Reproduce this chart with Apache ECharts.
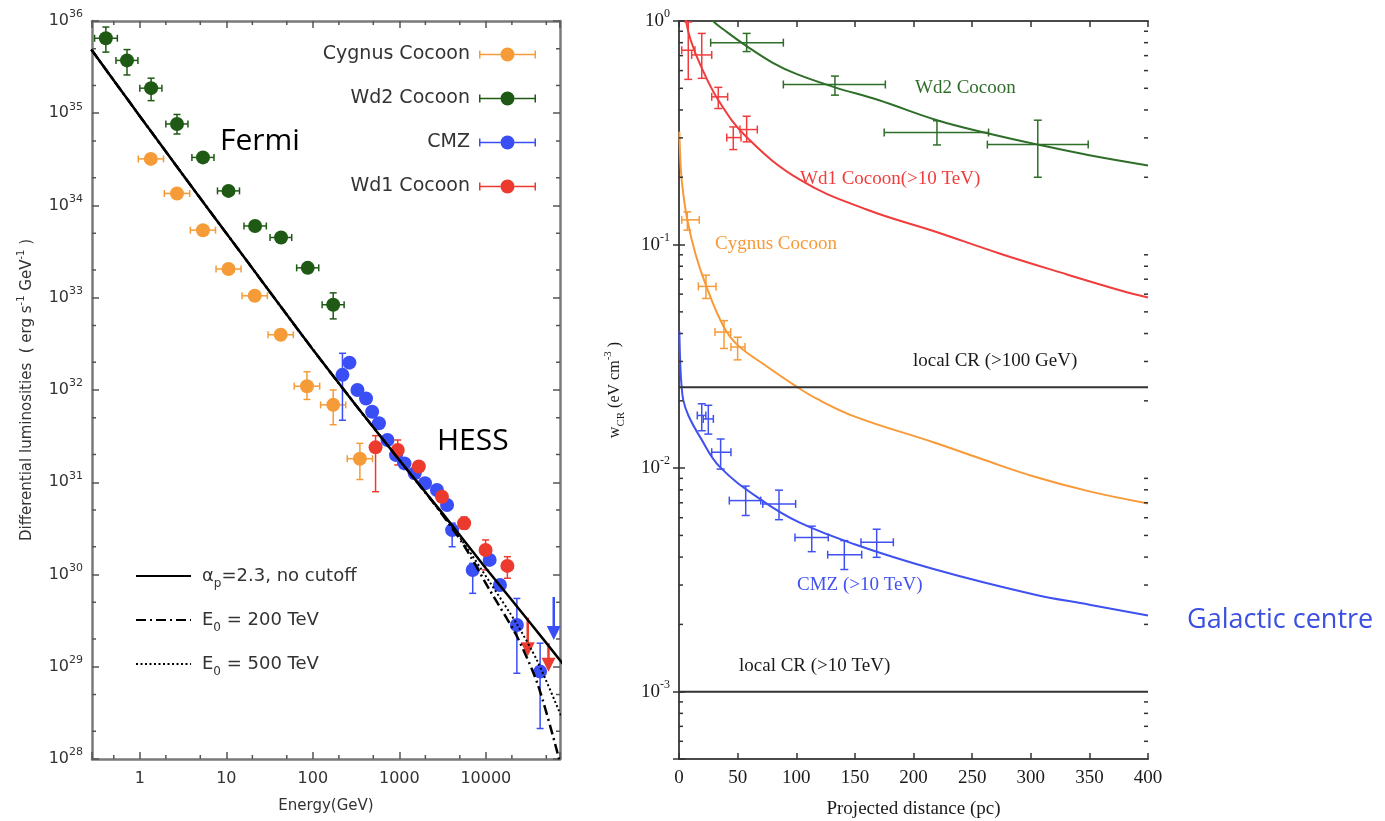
<!DOCTYPE html>
<html>
<head>
<meta charset="utf-8">
<script src="https://cdn.jsdelivr.net/npm/echarts@6/dist/echarts.min.js"></script>
<style>
html, body { margin: 0; padding: 0; background: #fff; }
#main { width: 1385px; height: 821px; }
</style>
</head>
<body>
<div id="main"></div>
<script>
// ---- left panel: luminosity vs energy ----
// [E (GeV), L, Elo, Ehi, Llo, Lhi]
var cygnusPts = [
	[1.34, 3.2e34, 0.96, 1.88, null, null],
	[2.69, 1.35e34, 1.92, 3.77, null, null],
	[5.37, 5.4e33, 3.84, 7.5, null, null],
	[10.6, 2.05e33, 7.6, 14.8, null, null],
	[21.3, 1.05e33, 15.2, 29.8, null, null],
	[42.5, 3.97e32, 30.4, 59.5, null, null],
	[85.6, 1.1e32, 61, 120, 7.9e31, 1.58e32],
	[172, 6.9e31, 123, 240, 4.2e31, 1.0e32],
	[350, 1.8e31, 250, 490, 1.07e31, 2.64e31]
];
var wd2Pts = [
	[0.405, 6.5e35, 0.3, 0.55, 4.6e35, 8.6e35],
	[0.711, 3.74e35, 0.53, 0.95, 2.6e35, 4.9e35],
	[1.35, 1.87e35, 1.0, 1.8, 1.37e35, 2.4e35],
	[2.69, 7.66e34, 2.0, 3.6, 5.96e34, 9.7e34],
	[5.37, 3.32e34, 4.0, 7.2, null, null],
	[10.6, 1.44e34, 7.9, 14.2, null, null],
	[21.5, 6.0e33, 16, 29, null, null],
	[42.9, 4.5e33, 32, 57, null, null],
	[87.3, 2.11e33, 65, 117, null, null],
	[172, 8.4e32, 128, 230, 5.9e32, 1.13e33]
];
var cmzPts = [
	[220, 1.46e32, null, null, 4.7e31, 2.5e32],
	[265, 1.98e32, null, null, null, null],
	[328, 1.0e32, null, null, null, null],
	[412, 8.1e31, null, null, null, null],
	[485, 5.8e31, null, null, null, null],
	[581, 4.36e31, null, null, null, null],
	[729, 2.87e31, null, null, null, null],
	[916, 1.97e31, null, null, null, null],
	[1148, 1.6e31, null, null, null, null],
	[1506, 1.25e31, null, null, null, null],
	[1980, 9.75e30, null, null, null, null],
	[2720, 8.25e30, null, null, null, null],
	[3565, 5.67e30, null, null, null, null],
	[4080, 3.03e30, null, null, 2.0e30, 3.6e30],
	[7050, 1.12e30, null, null, 6.25e29, 1.32e30],
	[11070, 1.44e30, null, null, null, null],
	[14550, 7.7e29, null, null, null, null],
	[22850, 2.84e29, null, null, 8.5e28, 5.5e29],
	[42400, 8.86e28, null, null, 2.14e28, 1.8e29]
];
var wd1Pts = [
	[531, 2.39e31, null, null, 7.9e30, 3.2e31],
	[959, 2.24e31, null, null, 1.54e31, 2.87e31],
	[1680, 1.48e31, null, null, null, null],
	[3110, 6.96e30, null, null, null, null],
	[5610, 3.59e30, null, null, 3.1e30, 4.2e30],
	[9930, 1.84e30, null, null, 1.12e30, 2.37e30],
	[17750, 1.24e30, null, null, 9.1e29, 1.56e30]
];
// upper limits [E, arrow top, arrow tip]
var cmzLimits = [[61000, 5.7e29, 1.95e29]];
var wd1Limits = [[30500, 3.4e29, 1.3e29], [53000, 1.8e29, 8.8e28]];

// model curves [E, L]
var noCutoff = [[0.275, 4.9e35], [0.562, 1.95e35], [1, 9.3e34], [3.16, 2.14e34], [10, 5.0e33],
	[31.6, 1.17e33], [100, 2.75e32], [316, 6.8e31], [1000, 1.74e31], [3162, 4.6e30],
	[10000, 1.17e30], [31623, 3.1e29], [79433, 1.05e29]];
var cut200 = [[0.275, 4.9e35], [0.562, 1.95e35], [1, 9.3e34], [3.16, 2.14e34], [10, 5.0e33],
	[31.6, 1.17e33], [100, 2.75e32], [316, 6.8e31], [1000, 1.74e31], [2512, 5.9e30],
	[5370, 2.19e30], [11070, 6.8e29], [22860, 2.14e29], [39450, 6.6e28], [67600, 1.15e28], [79433, 5.6e27]];
var cut500 = [[0.275, 4.9e35], [0.562, 1.95e35], [1, 9.3e34], [3.16, 2.14e34], [10, 5.0e33],
	[31.6, 1.17e33], [100, 2.75e32], [316, 6.8e31], [1000, 1.74e31], [2512, 5.9e30],
	[5370, 2.29e30], [11070, 8.3e29], [22860, 2.9e29], [39450, 1.15e29], [74650, 2.9e28], [79433, 2.5e28]];

// ---- right panel: w_CR vs projected distance ----
// [r (pc), w, rlo, rhi, wlo, whi]
var wd2Dist = [
	[57.7, 0.80, 27, 89, 0.73, 0.88],
	[133, 0.52, 89, 176, 0.466, 0.567],
	[220, 0.317, 175, 264, 0.279, 0.358],
	[306, 0.28, 263, 349, 0.20, 0.36]
];
var wd1Dist = [
	[7.9, 0.74, 2.3, 13.6, 0.548, 0.99],
	[19.4, 0.705, 10.8, 27.9, 0.554, 0.88],
	[33.5, 0.458, 27.9, 41.5, 0.406, 0.505],
	[46.3, 0.301, 40.7, 52.9, 0.266, 0.336],
	[57.7, 0.327, 52, 66.8, 0.288, 0.375]
];
var cygDist = [
	[7.1, 0.129, 2.3, 17.3, 0.116, 0.14],
	[23, 0.065, 16.5, 31.6, 0.0574, 0.073],
	[38.4, 0.0406, 30.7, 44.1, 0.0343, 0.0457],
	[50, 0.0348, 44.3, 56.3, 0.0305, 0.0385]
];
var cmzDist = [
	[19.4, 0.0172, 15.6, 22.9, 0.0147, 0.0194],
	[25, 0.0166, 20.7, 29.3, 0.0142, 0.0191],
	[35.5, 0.01178, 27.9, 44.3, 0.0099, 0.0135],
	[56.9, 0.00716, 42.9, 69.7, 0.00614, 0.00831],
	[85.3, 0.00692, 71.4, 99.5, 0.00588, 0.00797],
	[113.2, 0.0049, 98.9, 127.3, 0.00423, 0.0055],
	[141, 0.0041, 126.8, 155.8, 0.00352, 0.00474],
	[168.6, 0.00466, 155.2, 182.8, 0.00399, 0.00533]
];
var wd2Fit = [[25, 1.08], [29, 1.0], [40, 0.90], [58, 0.77], [80, 0.65], [100, 0.58], [133, 0.505],
	[170, 0.443], [220, 0.36], [264, 0.314], [306, 0.28], [350, 0.251], [400, 0.226]];
var wd1Fit = [[4.5, 1.2], [6, 1.0], [10, 0.82], [18, 0.64], [33.5, 0.443], [58, 0.301], [103, 0.195],
	[160, 0.1435], [217, 0.115], [274, 0.091], [331, 0.0735], [376, 0.0625], [400, 0.058]];
var cygFit = [[0.3, 0.32], [1.5, 0.22], [3, 0.18], [7, 0.13], [14, 0.091], [23, 0.0657], [38, 0.043],
	[50, 0.0355], [75, 0.0285], [99, 0.0234], [117, 0.0205], [150, 0.017], [217, 0.01305],
	[260, 0.0109], [302, 0.0092], [350, 0.00787], [400, 0.00695]];
var cmzFit = [[0.3, 0.041], [1, 0.03], [2, 0.024], [3.7, 0.0201], [8, 0.0172], [17.9, 0.0138],
	[35, 0.0101], [72, 0.0071], [103, 0.0057], [149, 0.00458], [217, 0.00354], [302, 0.00273],
	[350, 0.00245], [400, 0.00219]];
var localCR = [0.023, 0.001];

// axis ranges and minor tick mantissas
var eMin = 0.28, eMax = 72000, lMin = 1e28, lMax = 1e36;
var wMin = 5e-4, wMax = 1;
var leftMinor = [2, 5];
var rightMinor = [2, 3, 4, 5, 6, 7, 8, 9];

var C_ORANGE = '#f59b38', C_GREEN = '#1f5a14', C_BLUE = '#3a4ef5', C_RED = '#ec3b2e';
var R_GREEN = '#2f6e28', R_RED = '#f03c3c', R_ORANGE = '#f89a38', R_BLUE = '#3f51f0';
var SANS = 'DejaVu Sans', SERIF = 'Liberation Serif';

function isPow10(v) {
	var l = Math.log10(v);
	return Math.abs(l - Math.round(l)) < 1e-6;
}

function minorValues(lo, hi, mant) {
	var out = [];
	for (var d = Math.floor(Math.log10(lo)); d <= Math.ceil(Math.log10(hi)); d++) {
		for (var i = 0; i < mant.length; i++) {
			var v = mant[i] * Math.pow(10, d);
			if (v > lo * 1.001 && v < hi * 0.999) out.push(v);
		}
	}
	return out;
}

function errBars(pts, color, cap, lw, xi, yi) {
	return {
		type: 'custom', xAxisIndex: xi, yAxisIndex: yi, z: 2, silent: true,
		data: pts.map(function (p) { return [p[0], p[1]]; }),
		renderItem: function (params, api) {
			var p = pts[params.dataIndex];
			var c = api.coord([p[0], p[1]]);
			var st = { stroke: color, lineWidth: lw };
			var kids = [];
			if (p[2] != null) {
				var a = api.coord([p[2], p[1]]), b = api.coord([p[3], p[1]]);
				kids.push({ type: 'line', shape: { x1: a[0], y1: c[1], x2: b[0], y2: c[1] }, style: st });
				kids.push({ type: 'line', shape: { x1: a[0], y1: c[1] - cap, x2: a[0], y2: c[1] + cap }, style: st });
				kids.push({ type: 'line', shape: { x1: b[0], y1: c[1] - cap, x2: b[0], y2: c[1] + cap }, style: st });
			}
			if (p[4] != null) {
				var lo = api.coord([p[0], p[4]]), hi = api.coord([p[0], p[5]]);
				kids.push({ type: 'line', shape: { x1: c[0], y1: lo[1], x2: c[0], y2: hi[1] }, style: st });
				kids.push({ type: 'line', shape: { x1: c[0] - cap, y1: lo[1], x2: c[0] + cap, y2: lo[1] }, style: st });
				kids.push({ type: 'line', shape: { x1: c[0] - cap, y1: hi[1], x2: c[0] + cap, y2: hi[1] }, style: st });
			}
			return { type: 'group', children: kids };
		}
	};
}

function limitArrows(lims, color) {
	return {
		type: 'custom', xAxisIndex: 0, yAxisIndex: 0, z: 3, silent: true,
		data: lims.map(function (p) { return [p[0], p[1], p[2]]; }),
		renderItem: function (params, api) {
			var top = api.coord([api.value(0), api.value(1)]);
			var tip = api.coord([api.value(0), api.value(2)]);
			return { type: 'group', children: [
				{ type: 'line', shape: { x1: top[0], y1: top[1], x2: tip[0], y2: tip[1] - 8 },
					style: { stroke: color, lineWidth: 2.5 } },
				{ type: 'polygon', shape: { points: [[tip[0] - 7, tip[1] - 14], [tip[0] + 7, tip[1] - 14], [tip[0], tip[1]]] },
					style: { fill: color } }
			] };
		}
	};
}

function minorTicks(vals, dir, anyVal, len, xi, yi, color) {
	return {
		type: 'custom', xAxisIndex: xi, yAxisIndex: yi, z: 5, silent: true,
		data: vals.map(function (v) { return dir === 'y' ? [anyVal, v] : [v, anyVal]; }),
		renderItem: function (params, api) {
			var cs = params.coordSys;
			var pt = api.coord([api.value(0), api.value(1)]);
			var st = { stroke: color, lineWidth: 1.5 };
			if (dir === 'y') {
				return { type: 'group', children: [
					{ type: 'line', shape: { x1: cs.x, y1: pt[1], x2: cs.x + len, y2: pt[1] }, style: st },
					{ type: 'line', shape: { x1: cs.x + cs.width - len, y1: pt[1], x2: cs.x + cs.width, y2: pt[1] }, style: st }
				] };
			}
			return { type: 'group', children: [
				{ type: 'line', shape: { x1: pt[0], y1: cs.y + cs.height, x2: pt[0], y2: cs.y + cs.height - len }, style: st },
				{ type: 'line', shape: { x1: pt[0], y1: cs.y, x2: pt[0], y2: cs.y + len }, style: st }
			] };
		}
	};
}

function scatter(name, pts, color) {
	return {
		name: name, type: 'scatter', xAxisIndex: 0, yAxisIndex: 0, z: 3,
		symbolSize: 14, itemStyle: { color: color, opacity: 1 },
		data: pts.map(function (p) { return [p[0], p[1]]; })
	};
}

function curve(name, data, color, width, type, xi, yi, smooth) {
	return {
		name: name, type: 'line', xAxisIndex: xi, yAxisIndex: yi, z: 4,
		data: data, symbol: 'none', smooth: smooth, clip: true, silent: true,
		itemStyle: { color: 'rgba(0,0,0,0)', borderWidth: 0 },
		lineStyle: { color: color, width: width, type: type }
	};
}

var leftAxisLine = { lineStyle: { color: '#7a7a7a', width: 2.5 } };
var leftTick = { inside: true, length: 7, lineStyle: { color: '#555', width: 1.5 } };
var rightAxisLine = { lineStyle: { color: '#4a4a4a', width: 2 } };
var rightTick = { inside: true, length: 6, lineStyle: { color: '#333', width: 1.5 } };

var supLeft = {
	b: { fontFamily: SANS, fontSize: 16, color: '#333', lineHeight: 24 },
	s: { fontFamily: SANS, fontSize: 11, color: '#333', verticalAlign: 'top', lineHeight: 12 }
};
var supRight = {
	b: { fontFamily: SERIF, fontSize: 19, color: '#1a1a1a', lineHeight: 26 },
	s: { fontFamily: SERIF, fontSize: 12, color: '#1a1a1a', verticalAlign: 'top', lineHeight: 12 }
};

var legendNames = {
	nocut: '{a|α}{sub|p}{t|=2.3, no cutoff}',
	e200: '{t|E}{sub|0}{t| = 200 TeV}',
	e500: '{t|E}{sub|0}{t| = 500 TeV}'
};

var option = {
	animation: false,
	backgroundColor: '#fff',
	grid: [
		{ left: 92, top: 21, width: 468, height: 738, containLabel: false, outerBoundsMode: 'none' },
		{ left: 679, top: 21, width: 469, height: 738, containLabel: false, outerBoundsMode: 'none' }
	],
	xAxis: [
		{
			gridIndex: 0, type: 'log', logBase: 10, min: eMin, max: eMax, position: 'bottom',
			axisLine: leftAxisLine, axisTick: leftTick, splitLine: { show: false },
			axisLabel: {
				fontFamily: SANS, fontSize: 16, color: '#333', margin: 12,
				formatter: function (v) { return isPow10(v) ? String(Math.round(v)) : ''; }
			},
			name: 'Energy(GeV)', nameLocation: 'middle', nameGap: 40,
			nameTextStyle: { fontFamily: SANS, fontSize: 15, color: '#333' }
		},
		{
			gridIndex: 0, type: 'log', logBase: 10, min: eMin, max: eMax, position: 'top',
			axisLine: leftAxisLine, axisTick: leftTick, splitLine: { show: false }, axisLabel: { show: false }
		},
		{
			gridIndex: 1, type: 'value', min: 0, max: 400, interval: 50, position: 'bottom',
			axisLine: rightAxisLine, axisTick: rightTick, splitLine: { show: false },
			axisLabel: { fontFamily: SERIF, fontSize: 19, color: '#1a1a1a', margin: 10 },
			name: 'Projected distance (pc)', nameLocation: 'middle', nameGap: 41,
			nameTextStyle: { fontFamily: SERIF, fontSize: 19, color: '#1a1a1a' }
		},
		{
			gridIndex: 1, type: 'value', min: 0, max: 400, interval: 50, position: 'top',
			axisLine: rightAxisLine, axisTick: rightTick, splitLine: { show: false }, axisLabel: { show: false }
		}
	],
	yAxis: [
		{
			gridIndex: 0, type: 'log', logBase: 10, min: lMin, max: lMax, position: 'left',
			axisLine: leftAxisLine, axisTick: leftTick, splitLine: { show: false },
			axisLabel: {
				margin: 9, rich: supLeft,
				formatter: function (v) { return isPow10(v) ? '{b|10}{s|' + Math.round(Math.log10(v)) + '}' : ''; }
			},
			name: '{t|Differential luminosities  ( erg s}{s|-1}{t| GeV}{s|-1}{t| )}',
			nameLocation: 'middle', nameGap: 54,
			nameTextStyle: { rich: {
				t: { fontFamily: SANS, fontSize: 15, color: '#333', lineHeight: 22 },
				s: { fontFamily: SANS, fontSize: 10, color: '#333', verticalAlign: 'top', lineHeight: 10 }
			} }
		},
		{
			gridIndex: 0, type: 'log', logBase: 10, min: lMin, max: lMax, position: 'right',
			axisLine: leftAxisLine, axisTick: leftTick, splitLine: { show: false }, axisLabel: { show: false }
		},
		{
			gridIndex: 1, type: 'log', logBase: 10, min: wMin, max: wMax, position: 'left',
			axisLine: rightAxisLine, axisTick: rightTick, splitLine: { show: false },
			axisLabel: {
				margin: 9, rich: supRight,
				formatter: function (v) { return isPow10(v) ? '{b|10}{s|' + Math.round(Math.log10(v)) + '}' : ''; }
			},
			name: '{t|w}{sub|CR}{t| (eV cm}{s|-3}{t| )}',
			nameLocation: 'middle', nameGap: 52,
			nameTextStyle: { rich: {
				t: { fontFamily: SERIF, fontSize: 16, color: '#1a1a1a', lineHeight: 22 },
				sub: { fontFamily: SERIF, fontSize: 11, color: '#1a1a1a', verticalAlign: 'bottom', lineHeight: 24 },
				s: { fontFamily: SERIF, fontSize: 11, color: '#1a1a1a', verticalAlign: 'top', lineHeight: 10 }
			} }
		},
		{
			gridIndex: 1, type: 'log', logBase: 10, min: wMin, max: wMax, position: 'right',
			axisLine: rightAxisLine, axisTick: rightTick, splitLine: { show: false }, axisLabel: { show: false }
		}
	],
	legend: [
		{
			data: ['Cygnus Cocoon', 'Wd2 Cocoon', 'CMZ', 'Wd1 Cocoon'],
			orient: 'vertical', right: 844, top: 40, align: 'right', selectedMode: false,
			itemWidth: 57, itemHeight: 14, itemGap: 25,
			icon: 'path://M0,3h1.5v8h-1.5z M1.5,6.2h20v1.6h-20z M35.5,6.2h20v1.6h-20z M55.5,3h1.5v8h-1.5z M21.5,7a7,7 0 1,0 14,0a7,7 0 1,0 -14,0z',
			textStyle: { fontFamily: SANS, fontSize: 19, color: '#333', padding: [0, 4, 0, 0] }
		},
		{
			data: ['nocut', 'e200', 'e500'],
			orient: 'vertical', left: 130, top: 562, align: 'left', selectedMode: false,
			itemWidth: 55, itemHeight: 14, itemGap: 21,
			itemStyle: { color: 'rgba(0,0,0,0)', borderWidth: 0 },
			formatter: function (n) { return legendNames[n]; },
			textStyle: {
				padding: [0, 0, 0, 6],
				rich: {
					t: { fontFamily: SANS, fontSize: 18, color: '#333', lineHeight: 22 },
					a: { fontFamily: SANS, fontSize: 18, color: '#333', lineHeight: 22 },
					sub: { fontFamily: SANS, fontSize: 12, color: '#333', verticalAlign: 'bottom', lineHeight: 28 }
				}
			}
		}
	],
	graphic: [
		{ type: 'text', left: 220, top: 126, style: { text: 'Fermi', font: '30px "Open Sans"', fill: '#000' } },
		{ type: 'text', left: 437, top: 426, style: { text: 'HESS', font: '30px "Open Sans"', fill: '#000' } },
		{ type: 'text', left: 1187, top: 607, style: { text: 'Galactic centre', font: '27px "Open Sans"', fill: '#3b4fe0' } },
		{ type: 'text', left: 915, top: 79, style: { text: 'Wd2 Cocoon', font: '19px "Liberation Serif"', fill: R_GREEN } },
		{ type: 'text', left: 800, top: 170, style: { text: 'Wd1 Cocoon(>10 TeV)', font: '19px "Liberation Serif"', fill: R_RED } },
		{ type: 'text', left: 715, top: 235, style: { text: 'Cygnus Cocoon', font: '19px "Liberation Serif"', fill: R_ORANGE } },
		{ type: 'text', left: 913, top: 352, style: { text: 'local CR (>100 GeV)', font: '19px "Liberation Serif"', fill: '#1a1a1a' } },
		{ type: 'text', left: 797, top: 576, style: { text: 'CMZ (>10 TeV)', font: '19px "Liberation Serif"', fill: R_BLUE } },
		{ type: 'text', left: 739, top: 657, style: { text: 'local CR (>10 TeV)', font: '19px "Liberation Serif"', fill: '#1a1a1a' } }
	],
	series: [
		errBars(cygnusPts, C_ORANGE, 3.5, 1.5, 0, 0),
		errBars(wd2Pts, C_GREEN, 3.5, 1.5, 0, 0),
		errBars(cmzPts, C_BLUE, 3.5, 1.5, 0, 0),
		errBars(wd1Pts, C_RED, 3.5, 1.5, 0, 0),
		scatter('Cygnus Cocoon', cygnusPts, C_ORANGE),
		scatter('Wd2 Cocoon', wd2Pts, C_GREEN),
		scatter('CMZ', cmzPts, C_BLUE),
		scatter('Wd1 Cocoon', wd1Pts, C_RED),
		limitArrows(cmzLimits, C_BLUE),
		limitArrows(wd1Limits, C_RED),
		curve('e500', cut500, '#000', 2, [2, 2.5], 0, 0, 0.25),
		curve('e200', cut200, '#000', 2.5, [10, 4, 2, 4], 0, 0, 0.25),
		curve('nocut', noCutoff, '#000', 2.5, 'solid', 0, 0, 0.25),
		minorTicks(minorValues(lMin, lMax, leftMinor), 'y', 1, 4, 0, 0, '#555'),
		minorTicks(minorValues(eMin, eMax, leftMinor), 'x', 1e30, 4, 0, 0, '#555'),

		errBars(wd2Dist, R_GREEN, 4, 1.5, 2, 2),
		errBars(wd1Dist, R_RED, 4, 1.5, 2, 2),
		errBars(cygDist, R_ORANGE, 4, 1.5, 2, 2),
		errBars(cmzDist, R_BLUE, 4, 1.5, 2, 2),
		curve('wd2fit', wd2Fit, R_GREEN, 2, 'solid', 2, 2, 0.4),
		curve('wd1fit', wd1Fit, R_RED, 2, 'solid', 2, 2, 0.4),
		curve('cygfit', cygFit, R_ORANGE, 2, 'solid', 2, 2, 0.4),
		curve('cmzfit', cmzFit, R_BLUE, 2, 'solid', 2, 2, 0.4),
		curve('cr100', [[0, localCR[0]], [400, localCR[0]]], '#333', 2, 'solid', 2, 2, false),
		curve('cr10', [[0, localCR[1]], [400, localCR[1]]], '#333', 2, 'solid', 2, 2, false),
		minorTicks(minorValues(wMin, wMax, rightMinor), 'y', 200, 4, 2, 2, '#333')
	]
};

var chart = echarts.init(document.getElementById('main'));
chart.setOption(option);
</script>
</body>
</html>
